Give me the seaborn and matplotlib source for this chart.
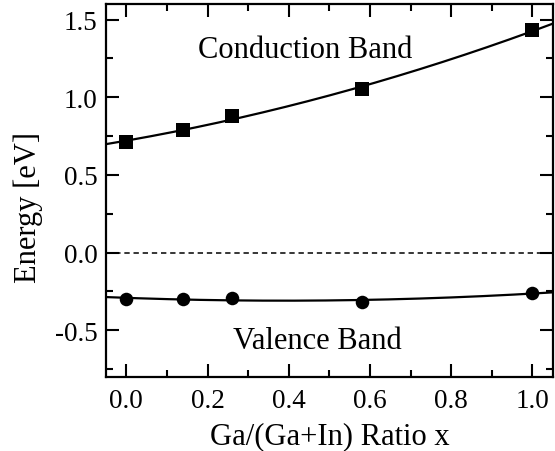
import numpy as np
import pandas as pd
import matplotlib
matplotlib.use("Agg")
import matplotlib.pyplot as plt
from matplotlib.ticker import MultipleLocator
import seaborn as sns

# Band edge positions vs. Ga content
ratio_x = [0.0, 0.14, 0.26, 0.58, 1.0]
conduction_band = [0.71, 0.79, 0.88, 1.05, 1.43]
valence_band = [-0.30, -0.30, -0.29, -0.32, -0.26]

x_ticks = [0.0, 0.2, 0.4, 0.6, 0.8, 1.0]
y_ticks = [-0.5, 0.0, 0.5, 1.0, 1.5]

sns.set_theme(style="ticks")
plt.rcParams["font.family"] = ["Liberation Serif", "DejaVu Serif"]

df = pd.DataFrame({"x": ratio_x, "cb": conduction_band, "vb": valence_band})

# Quadratic fits through the measured points
xf = np.linspace(-0.05, 1.05, 300)
cb_fit = np.polyval(np.polyfit(ratio_x, conduction_band, 2), xf)
vb_fit = np.polyval(np.polyfit(ratio_x, valence_band, 2), xf)
fits = pd.DataFrame({"x": xf, "cb": cb_fit, "vb": vb_fit})

fig = plt.figure(figsize=(5.55, 4.52), dpi=100)
ax = fig.add_axes([0.191, 0.164, 0.805, 0.825])

sns.lineplot(data=fits, x="x", y="cb", ax=ax, color="black", lw=1.6)
sns.lineplot(data=fits, x="x", y="vb", ax=ax, color="black", lw=1.6)
sns.scatterplot(data=df, x="x", y="cb", ax=ax, marker="s", s=95,
                color="black", edgecolor="black", linewidth=0, zorder=3)
sns.scatterplot(data=df, x="x", y="vb", ax=ax, marker="o", s=95,
                color="black", edgecolor="black", linewidth=0, zorder=3)
ax.axhline(0.0, color="black", lw=1.1, ls=(0, (3.5, 2.5)))

ax.set_xlim(-0.05, 1.05)
ax.set_ylim(-0.8, 1.6)
ax.set_xticks(x_ticks)
ax.set_yticks(y_ticks)
ax.set_xticklabels([f"{v:.1f}" for v in x_ticks])
ax.set_yticklabels([f"{v:.1f}" for v in y_ticks])
ax.xaxis.set_minor_locator(MultipleLocator(0.1))
ax.yaxis.set_minor_locator(MultipleLocator(0.25))

ax.tick_params(which="both", direction="in", top=True, right=True,
               colors="black", labelsize=19.5, width=1.5)
ax.tick_params(which="major", length=9.5)
ax.tick_params(which="minor", length=5)
ax.tick_params(axis="x", which="major", pad=8)
ax.tick_params(axis="y", which="major", pad=6)
for sp in ax.spines.values():
    sp.set_linewidth(1.6)
    sp.set_color("black")
    sp.set_visible(True)

ax.set_xlabel("Ga/(Ga+In) Ratio x", fontsize=22, color="black", labelpad=6)
ax.set_ylabel("Energy [eV]", fontsize=22, color="black")
ax.yaxis.set_label_coords(-0.141, 0.458)

ax.text(0.44, 1.31, "Conduction Band", fontsize=22, ha="center", va="center", color="black")
ax.text(0.47, -0.565, "Valence Band", fontsize=22, ha="center", va="center", color="black")

fig.savefig("out.png", dpi=100)
